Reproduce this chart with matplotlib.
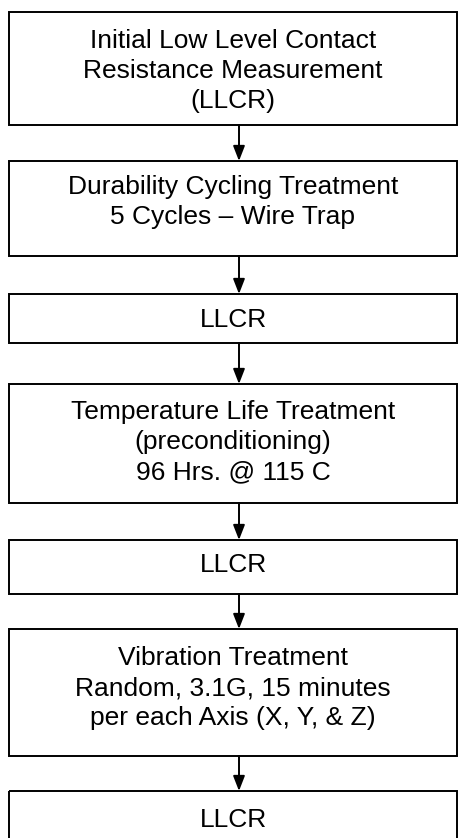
import matplotlib
matplotlib.use("Agg")
import matplotlib.pyplot as plt
from matplotlib.patches import Rectangle

# Flowchart steps (content)
steps = [
    "Initial Low Level Contact\nResistance Measurement\n(LLCR)",
    "Durability Cycling Treatment\n5 Cycles \u2013 Wire Trap",
    "LLCR",
    "Temperature Life Treatment\n(preconditioning)\n96 Hrs. @ 115 C",
    "LLCR",
    "Vibration Treatment\nRandom, 3.1G, 15 minutes\nper each Axis (X, Y, & Z)",
    "LLCR",
]

# Layout (pixel coordinates, top-origin)
box_top = [12, 161, 294, 384, 540, 629, 791]
box_bot = [125, 256, 343, 503, 594, 756, 850]
text_y = [71, 202, 320, 442, 565, 688, 820]
box_left, box_right = 9, 457
text_x = 233
arrow_x = 239

W, H = 463, 838
fig = plt.figure(figsize=(W / 100, H / 100), dpi=100)
ax = fig.add_axes([0, 0, 1, 1])
ax.set_xlim(0, W)
ax.set_ylim(H, 0)
ax.axis("off")

for i, txt in enumerate(steps):
    ax.add_patch(Rectangle((box_left, box_top[i]), box_right - box_left,
                           box_bot[i] - box_top[i], fill=False,
                           edgecolor="black", linewidth=1.4))
    ax.text(text_x, text_y[i], txt, ha="center", va="center",
            fontsize=19, family=["Liberation Sans", "DejaVu Sans"],
            linespacing=1.33, color="black")
    if i < len(steps) - 1:
        ax.annotate("", xy=(arrow_x, box_top[i + 1]), xytext=(arrow_x, box_bot[i]),
                    arrowprops=dict(arrowstyle="-|>,head_length=0.9,head_width=0.35",
                                    color="black", lw=1.4, shrinkA=0, shrinkB=0))

fig.savefig("out.png", dpi=100)
